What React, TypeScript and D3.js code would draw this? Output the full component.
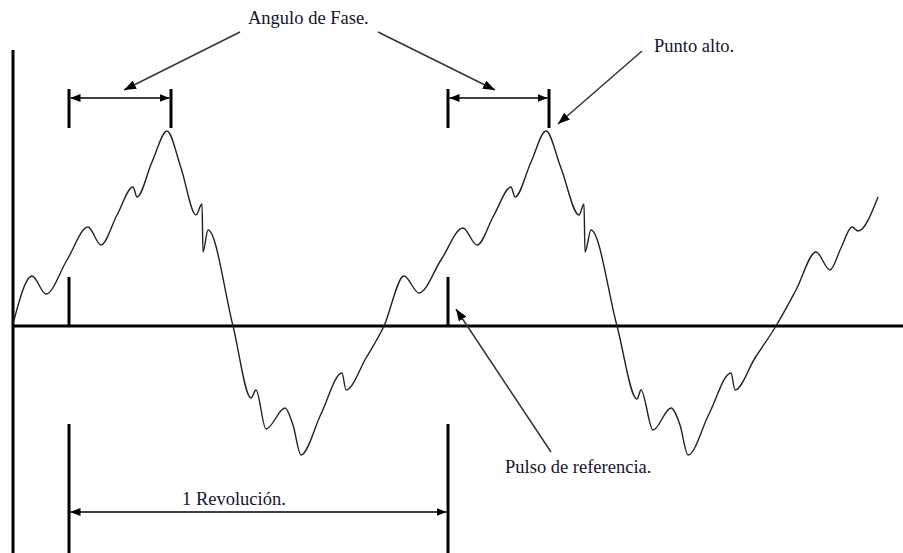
import React from "react";
import * as d3 from "d3";

// Waveform samples (x: time units, y: amplitude)
const waveX = [0, 19, 33, 54, 75, 88, 104, 120, 124, 139, 154, 168, 183, 189, 190, 195, 220, 238, 243, 253, 272, 280, 288, 308, 329, 333, 353, 371, 391, 406, 428, 450, 464, 481, 498, 502, 518, 533, 548, 566, 571, 572, 578, 604, 624, 628, 640, 658, 667, 675, 696, 718, 722, 742, 763, 783, 803, 817, 828, 839, 845, 865];
const waveY = [2, 50, 32, 66, 99, 81, 111, 139, 129, 164, 195, 158, 111, 122, 74, 96, 0, -72, -64, -103, -82, -99, -129, -88, -47, -64, -32, 0, 50, 33, 66, 98, 81, 111, 139, 129, 164, 195, 158, 111, 122, 74, 96, 0, -73, -64, -104, -82, -99, -129, -88, -47, -64, -32, 0, 36, 74, 56, 78, 99, 95, 129];

// Reference pulses and high points (x units)
const pulseX = [56, 435];
const highX = [158, 536];
const pulseHeight = 49;
const bracketTop = 237;
const bracketBottom = 198;
const bracketArrowY = 228;
const revTop = -98;
const revBottom = -227;
const revArrowY = -186;

const labels = ["Angulo de Fase.", "Punto alto.", "1 Revolución.", "Pulso de referencia."];

const W = 903;
const H = 553;

export default function App() {
  const x = d3.scaleLinear().domain([0, 890]).range([13, 903]);
  const y = d3.scaleLinear().domain([-227, 326]).range([553, 0]);
  const pts: [number, number][] = waveX.map((v, i) => [v, waveY[i]]);
  const line = d3
    .line<[number, number]>()
    .x((d) => x(d[0]))
    .y((d) => y(d[1]))
    .curve(d3.curveMonotoneX);

  const font = "'Liberation Serif', 'Times New Roman', serif";
  const textColor = "#14142a";
  const ptr = "#333";

  return (
    <svg
      width={W}
      height={H}
      style={{ position: "absolute", left: 0, top: 0, background: "#fff" }}
    >
      <defs>
        <marker id="ah" viewBox="0 0 10 8" refX={10} refY={4} markerWidth={10} markerHeight={8} markerUnits="userSpaceOnUse" orient="auto-start-reverse">
          <path d="M0,0 L10,4 L0,8 z" fill="#000" />
        </marker>
        <marker id="ap" viewBox="0 0 12 9" refX={12} refY={4.5} markerWidth={12} markerHeight={9} markerUnits="userSpaceOnUse" orient="auto">
          <path d="M0,0 L12,4.5 L0,9 z" fill="#000" />
        </marker>
      </defs>
      <rect width={W} height={H} fill="#fff" />

      {/* axes */}
      <line x1={x(0)} x2={x(0)} y1={50} y2={H} stroke="#000" strokeWidth={3} />
      <line x1={x(0)} x2={W} y1={y(0)} y2={y(0)} stroke="#000" strokeWidth={3} />

      {/* waveform */}
      <path d={line(pts) || ""} fill="none" stroke="#222" strokeWidth={1.4} />

      {/* reference pulses */}
      {pulseX.map((p, i) => (
        <line key={"p" + i} x1={x(p)} x2={x(p)} y1={y(0)} y2={y(pulseHeight)} stroke="#000" strokeWidth={3} />
      ))}

      {/* phase angle brackets */}
      {pulseX.map((p, i) => (
        <g key={"b" + i}>
          <line x1={x(p)} x2={x(p)} y1={y(bracketTop)} y2={y(bracketBottom)} stroke="#000" strokeWidth={3} />
          <line x1={x(highX[i])} x2={x(highX[i])} y1={y(bracketTop)} y2={y(bracketBottom)} stroke="#000" strokeWidth={3} />
          <line
            x1={x(p) + 1.5}
            x2={x(highX[i]) - 1.5}
            y1={y(bracketArrowY)}
            y2={y(bracketArrowY)}
            stroke="#000"
            strokeWidth={1.5}
            markerStart="url(#ah)"
            markerEnd="url(#ah)"
          />
        </g>
      ))}

      {/* revolution dimension */}
      {pulseX.map((p, i) => (
        <line key={"r" + i} x1={x(p)} x2={x(p)} y1={y(revTop)} y2={y(revBottom)} stroke="#000" strokeWidth={3} />
      ))}
      <line
        x1={x(pulseX[0]) + 1.5}
        x2={x(pulseX[1]) - 1.5}
        y1={y(revArrowY)}
        y2={y(revArrowY)}
        stroke="#000"
        strokeWidth={1.5}
        markerStart="url(#ah)"
        markerEnd="url(#ah)"
      />

      {/* pointer arrows */}
      <line x1={240} y1={32} x2={124} y2={90} stroke={ptr} strokeWidth={1.5} markerEnd="url(#ap)" />
      <line x1={378} y1={32} x2={495} y2={90} stroke={ptr} strokeWidth={1.5} markerEnd="url(#ap)" />
      <line x1={642} y1={51} x2={558} y2={124} stroke={ptr} strokeWidth={1.5} markerEnd="url(#ap)" />
      <line x1={551} y1={452} x2={456} y2={309} stroke={ptr} strokeWidth={1.5} markerEnd="url(#ap)" />

      {/* labels */}
      <text x={248} y={24} fontFamily={font} fontSize={18.5} fill={textColor}>{labels[0]}</text>
      <text x={654} y={52} fontFamily={font} fontSize={18.5} fill={textColor}>{labels[1]}</text>
      <text x={182} y={505} fontFamily={font} fontSize={18.5} fill={textColor}>{labels[2]}</text>
      <text x={505} y={473} fontFamily={font} fontSize={18.5} fill={textColor}>{labels[3]}</text>
    </svg>
  );
}
